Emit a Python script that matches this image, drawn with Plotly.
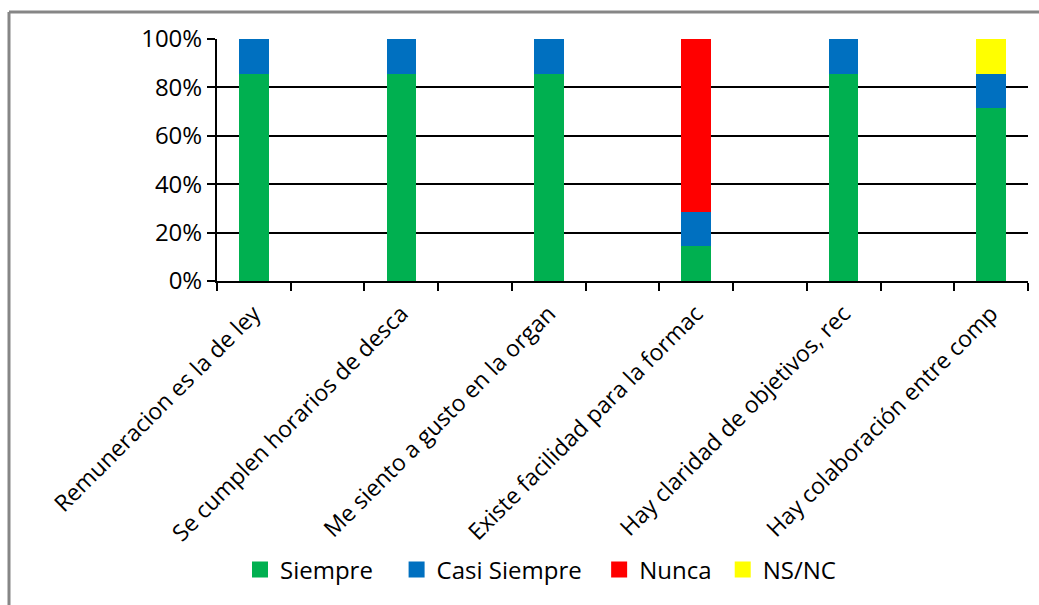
import plotly.graph_objects as go

categories = ["Remuneracion es la de ley", " ", "Se cumplen horarios de desca", "  ",
              "Me siento a gusto en la organ", "   ", "Existe facilidad para la formac", "    ",
              "Hay claridad de objetivos, rec", "     ", "Hay colaboración entre comp"]
siempre = [85.7, None, 85.7, None, 85.7, None, 14.3, None, 85.7, None, 71.4]
casi_siempre = [14.3, None, 14.3, None, 14.3, None, 14.3, None, 14.3, None, 14.3]
nunca = [None, None, None, None, None, None, 71.4, None, None, None, None]
ns_nc = [None, None, None, None, None, None, None, None, None, None, 14.3]
series_names = ["Siempre", "Casi Siempre", "Nunca", "NS/NC"]
colors = ["#00B050", "#0070C0", "#FF0000", "#FFFF00"]

FONT = "Open Sans"
FS = 24
fig = go.Figure()
for name, vals, col in zip(series_names, [siempre, casi_siempre, nunca, ns_nc], colors):
    fig.add_trace(go.Bar(x=categories, y=vals, name=name, showlegend=False,
                         marker=dict(color=col, line=dict(width=0))))
# legend entries with larger square swatches
pads = [3, 2, 1, 0]
for name, col, p in zip(series_names, colors, pads):
    fig.add_trace(go.Scatter(x=[None], y=[None], mode="markers", name=name + "\u00a0" * p,
                             marker=dict(symbol="square", size=19, color=col)))

L, T, W, H = 217, 39, 811, 242
fig.update_layout(
    width=1039, height=605,
    margin=dict(l=L, r=1039 - L - W, t=T, b=605 - T - H, pad=0),
    barmode="stack", bargap=0.6,
    paper_bgcolor="white", plot_bgcolor="white",
    font=dict(family=FONT, size=FS, color="black"),
    showlegend=True,
    legend=dict(orientation="h", x=(240 - L) / W, xanchor="left",
                y=(T + H - 570) / H, yanchor="middle",
                font=dict(family=FONT, size=FS), itemwidth=30, traceorder="normal",
                itemsizing="trace"),
    xaxis=dict(type="category", tickangle=-45, showline=True, linecolor="black", linewidth=2,
               ticks="outside", tickson="boundaries", ticklen=8, tickcolor="black", tickwidth=2,
               showgrid=False, tickfont=dict(family=FONT, size=23), ticklabelstandoff=8),
    yaxis=dict(range=[0, 100], dtick=20, ticksuffix="%", showline=True, linecolor="black",
               linewidth=2, ticks="outside", ticklen=8, tickcolor="black", tickwidth=2,
               showgrid=True, gridcolor="black", gridwidth=2, zeroline=False,
               tickfont=dict(family=FONT, size=FS)),
)
# outer chart border (top and left visible)
bx = (9 - L) / W
by = (T + H - 12) / H
fig.add_shape(type="line", xref="paper", yref="paper", x0=bx, x1=(1045 - L) / W, y0=by, y1=by,
              line=dict(color="#868686", width=3))
fig.add_shape(type="line", xref="paper", yref="paper", x0=bx, x1=bx, y0=by, y1=(T + H - 615) / H,
              line=dict(color="#868686", width=3))
fig.write_html("out.html")
